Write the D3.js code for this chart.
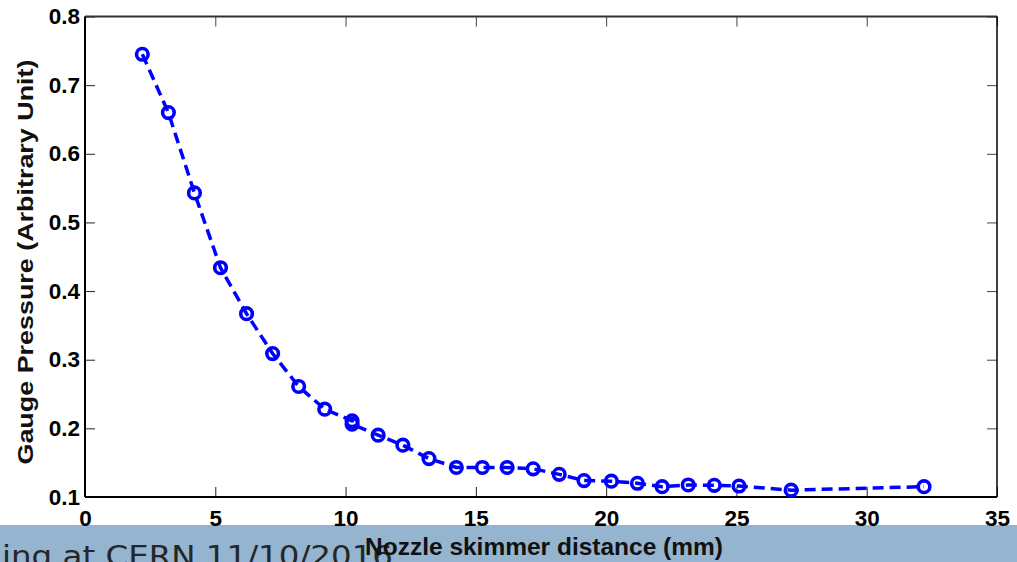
<!DOCTYPE html>
<html><head><meta charset="utf-8">
<script src="https://cdn.jsdelivr.net/npm/d3@7"></script>
<style>html,body{margin:0;padding:0;background:#fff;overflow:hidden}</style>
</head><body>
<svg id="c" width="1017" height="562"></svg>
<script>
const distance = [2.2,3.2,4.2,5.2,6.2,7.2,8.2,9.2,10.25,10.25,11.25,12.2,13.2,14.25,15.25,16.2,17.2,18.2,19.15,20.2,21.2,22.15,23.15,24.15,25.1,27.1,32.2];
const pressure = [0.745,0.660,0.543,0.434,0.367,0.309,0.261,0.228,0.211,0.206,0.190,0.1755,0.156,0.143,0.143,0.143,0.141,0.133,0.124,0.123,0.120,0.115,0.1175,0.117,0.116,0.110,0.115];
const xTicks = [0,5,10,15,20,25,30,35];
const yTicks = [0.1,0.2,0.3,0.4,0.5,0.6,0.7,0.8];
const xTitle = "Nozzle skimmer distance (mm)";
const yTitle = "Gauge Pressure (Arbitrary Unit)";
const footer = "ing at CERN 11/10/2016";

const svg = d3.select("#c");
const L=85, R=997, T=16.5, B=497;
const x = d3.scaleLinear().domain([0,35]).range([L,R]);
const y = d3.scaleLinear().domain([0.1,0.8]).range([B,T]);

svg.append("rect").attr("x",0).attr("y",525).attr("width",1017).attr("height",37).attr("fill","#94b4d0");
svg.append("text").attr("x",2).attr("y",566).attr("font-family","DejaVu Sans, sans-serif")
  .attr("font-size",28).attr("fill","#262626").attr("textLength",391).attr("lengthAdjust","spacingAndGlyphs").text(footer);

const font = "Liberation Sans, Arial, sans-serif";
const gx = svg.append("g").attr("transform",`translate(0,${B})`)
  .call(d3.axisBottom(x).tickValues(xTicks).tickSizeInner(-10).tickSizeOuter(0).tickPadding(13));
gx.select(".domain").remove();
gx.selectAll("text").attr("font-family",font).attr("font-weight","bold").attr("font-size",22.5).attr("fill","#000");
gx.selectAll("line").attr("stroke","#222");
const gxt = svg.append("g").attr("transform",`translate(0,${T})`)
  .call(d3.axisTop(x).tickValues(xTicks).tickSizeInner(-10).tickSizeOuter(0).tickFormat(""));
gxt.select(".domain").remove(); gxt.selectAll("line").attr("stroke","#444");

const gy = svg.append("g").attr("transform",`translate(${L},0)`)
  .call(d3.axisLeft(y).tickValues(yTicks).tickSizeInner(-10).tickSizeOuter(0).tickPadding(5).tickFormat(d3.format(".1f")));
gy.select(".domain").remove();
gy.selectAll("text").attr("font-family",font).attr("font-weight","bold").attr("font-size",22.5).attr("fill","#000");
gy.selectAll("line").attr("stroke","#222");
const gyr = svg.append("g").attr("transform",`translate(${R},0)`)
  .call(d3.axisRight(y).tickValues(yTicks).tickSizeInner(-10).tickSizeOuter(0).tickFormat(""));
gyr.select(".domain").remove(); gyr.selectAll("line").attr("stroke","#444");

svg.append("line").attr("x1",L).attr("x2",R).attr("y1",T).attr("y2",T).attr("stroke","#333").attr("stroke-width",2);
svg.append("line").attr("x1",R).attr("x2",R).attr("y1",T).attr("y2",B).attr("stroke","#000").attr("stroke-width",1.5);
svg.append("line").attr("x1",L).attr("x2",R).attr("y1",B).attr("y2",B).attr("stroke","#000").attr("stroke-width",2);
svg.append("line").attr("x1",L).attr("x2",L).attr("y1",T).attr("y2",B).attr("stroke","#000").attr("stroke-width",2);

svg.append("text").attr("x",544).attr("y",555).attr("text-anchor","middle").attr("font-family",font)
  .attr("font-weight","bold").attr("font-size",24).attr("fill","#111").attr("textLength",358).attr("lengthAdjust","spacingAndGlyphs").text(xTitle);
svg.append("text").attr("transform","translate(33,262) rotate(-90)").attr("text-anchor","middle").attr("font-family",font)
  .attr("font-weight","bold").attr("font-size",22).attr("fill","#111").attr("textLength",405).attr("lengthAdjust","spacingAndGlyphs").text(yTitle);

const pts = distance.map((d,i)=>[d,pressure[i]]);
svg.append("path").datum(pts).attr("fill","none").attr("stroke","#0000ff").attr("stroke-width",3.5)
  .attr("stroke-dasharray","11,6").attr("d",d3.line().x(d=>x(d[0])).y(d=>y(d[1])));
svg.append("g").selectAll("circle").data(pts).join("circle")
  .attr("cx",d=>x(d[0])).attr("cy",d=>y(d[1])).attr("r",5.8)
  .attr("fill","none").attr("stroke","#0000ff").attr("stroke-width",3.6);
</script>
</body></html>
